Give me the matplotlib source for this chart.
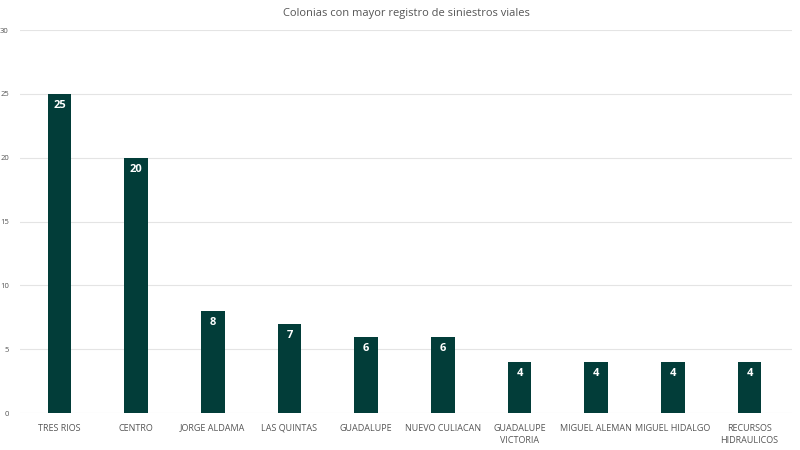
import matplotlib.pyplot as plt

colonias = ["TRES RIOS", "CENTRO", "JORGE ALDAMA", "LAS QUINTAS", "GUADALUPE",
            "NUEVO CULIACAN", "GUADALUPE\nVICTORIA", "MIGUEL ALEMAN",
            "MIGUEL HIDALGO", "RECURSOS\nHIDRAULICOS"]
siniestros = [25, 20, 8, 7, 6, 6, 4, 4, 4, 4]
y_ticks = [0, 5, 10, 15, 20, 25, 30]

plt.rcParams["font.family"] = ["Open Sans", "DejaVu Sans"]

fig = plt.figure(figsize=(8, 4.5), dpi=100)
ax = fig.add_axes([0.025, 0.082, 0.965, 0.851])

x = range(len(colonias))
bars = ax.bar(x, siniestros, width=0.31, color="#023d39", zorder=3)

for b, v in zip(bars, siniestros):
    ax.text(b.get_x() + b.get_width() / 2, v - 0.5, str(v), ha="center", va="top",
            color="white", fontsize=8, fontweight="bold", zorder=4)

ax.set_xlim(-0.515, len(colonias) - 0.445)
ax.set_ylim(0, 30)
ax.set_yticks(y_ticks)
ax.set_xticks(list(x))
ax.set_xticklabels(colonias, fontsize=6.5, color="#555555", linespacing=1.5)
ax.tick_params(axis="y", labelsize=5.5, labelcolor="#555555", length=0, pad=8)
ax.tick_params(axis="x", length=0, pad=7.5)
ax.grid(axis="y", color="#e4e4e4", linewidth=0.8, zorder=0)
for s in ax.spines.values():
    s.set_visible(False)

ax.set_title("Colonias con mayor registro de siniestros viales", fontsize=8,
             color="#555555", pad=10)

fig.savefig("out.png", dpi=100)
